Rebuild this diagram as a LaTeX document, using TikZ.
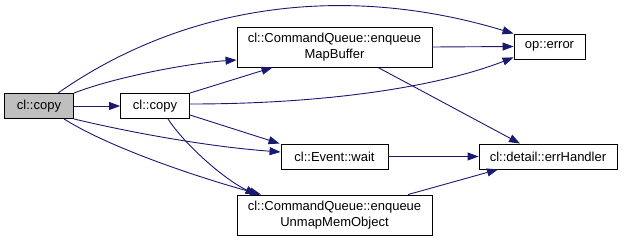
\documentclass[tikz,border=0pt]{standalone}
\usepackage{fontspec}
\setmainfont{Liberation Sans}
\usetikzlibrary{arrows.meta}
\definecolor{edgeblue}{HTML}{191970}
\definecolor{rootgray}{HTML}{BFBFBF}
\begin{document}
\begin{tikzpicture}[x=1pt,y=-1pt,
  fn/.style={draw=black, line width=0.9pt, fill=white, inner sep=0pt,
    align=center, font=\fontsize{13}{16.5}\selectfont},
  root/.style={fn, fill=rootgray},
  call/.style={draw=edgeblue, line width=0.9pt,
    -{Triangle[length=11pt,width=8pt]}, edgeblue}]
\useasboundingbox (0,0) rectangle (624,241);

% functions
\node[root, minimum width=69pt, minimum height=25pt] (a) at (39,106) {cl::copy};
\node[fn, minimum width=69pt, minimum height=25pt] (b) at (155,106) {cl::copy};
\node[fn, minimum width=195pt, minimum height=40pt] (m) at (334.5,47) {cl::CommandQueue::enqueue\\MapBuffer};
\node[fn, minimum width=71pt, minimum height=25pt] (e) at (549.5,46.5) {op::error};
\node[fn, minimum width=107pt, minimum height=25pt] (w) at (334.5,156.5) {cl::Event::wait};
\node[fn, minimum width=138pt, minimum height=25pt] (h) at (548,156.5) {cl::detail::errHandler};
\node[fn, minimum width=195pt, minimum height=40pt] (u) at (334.5,215) {cl::CommandQueue::enqueue\\UnmapMemObject};

% calls made by the root cl::copy
\draw[call] ([xshift=19pt]a.north) .. controls (178,9) and (336,-20) .. (e.north west);
\draw[call] (a.north east) .. controls (115,77) and (190,63) .. ([yshift=-13pt]m.west);
\draw[call] (a.east) -- (b.west);
\draw[call] (a.south east) .. controls (120,130) and (200,146) .. ([yshift=4.5pt]w.west);
\draw[call] ([xshift=25pt]a.south) .. controls (110,148) and (200,178) .. ([xshift=-73.5pt]u.north);

% calls made by cl::copy
\draw[call] (b.north east) -- ([xshift=-62pt]m.south);
\draw[call] ([yshift=2pt]b.east) .. controls (330,104) and (440,86) .. ([yshift=2pt]e.south west);
\draw[call] ([yshift=-9pt]b.east) -- ([xshift=-1pt]w.north west);
\draw[call] ([xshift=13pt]b.south) .. controls (185,145) and (225,180) .. ([xshift=-78pt]u.north);

% remaining calls
\draw[call] (m.east) -- (e.west);
\draw[call] ([xshift=43.5pt]m.south) -- ([xshift=-28pt]h.north);
\draw[call] (w.east) -- (h.west);
\draw[call] ([xshift=73.5pt]u.north) -- ([xshift=-50pt]h.south);
\end{tikzpicture}
\end{document}
